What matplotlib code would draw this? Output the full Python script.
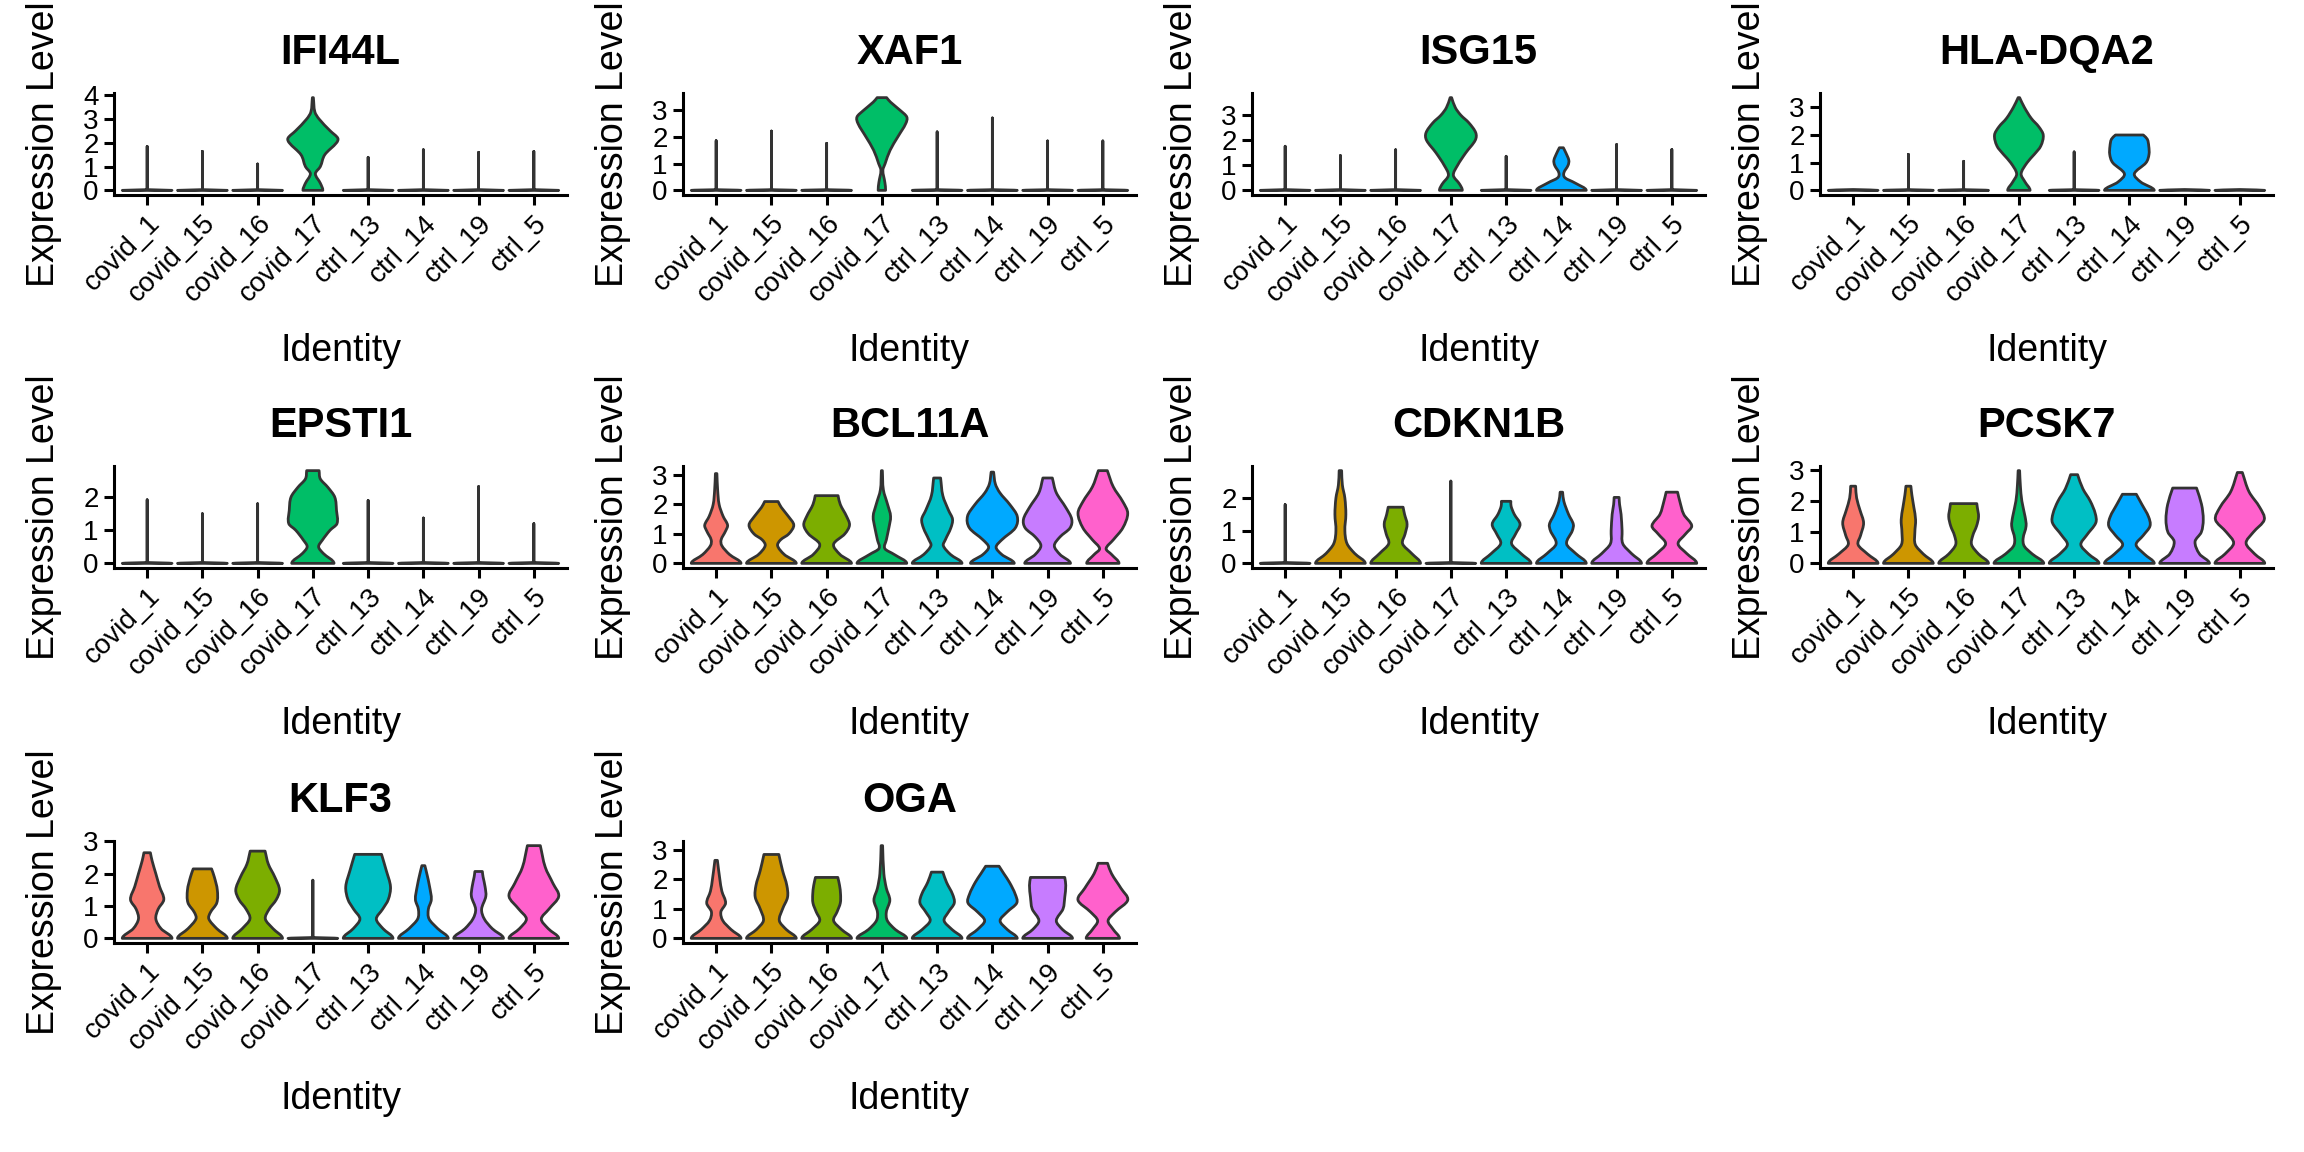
import matplotlib
matplotlib.use('Agg')
import matplotlib.pyplot as plt
from matplotlib.path import Path
from matplotlib.patches import PathPatch

plt.rcParams['font.family'] = ['Liberation Sans', 'DejaVu Sans']

groups = ['covid_1', 'covid_15', 'covid_16', 'covid_17', 'ctrl_13', 'ctrl_14', 'ctrl_19', 'ctrl_5']
colors = ['#F8766D', '#CD9600', '#7CAE00', '#00BE67', '#00BFC4', '#00A9FF', '#C77CFF', '#FF61CC']
genes = ['IFI44L', 'XAF1', 'ISG15', 'HLA-DQA2', 'EPSTI1', 'BCL11A', 'CDKN1B', 'PCSK7', 'KLF3', 'OGA']

# violin outlines: (expression level, relative half width), bottom to top
IFI44L = [
    [(0, 1), (0.03, 0), (1.85, 0)],
    [(0, 1), (0.03, 0), (1.64, 0)],
    [(0, 1), (0.03, 0), (1.11, 0)],
    [(0, 0.4), (0.3, 0.3), (0.7, 0.1), (1.0, 0.3), (1.5, 0.48), (2.0, 0.95), (2.2, 1.0), (2.5, 0.7), (3.0, 0.25), (3.3, 0.08), (3.9, 0.02)],
    [(0, 1), (0.03, 0), (1.39, 0)],
    [(0, 1), (0.03, 0), (1.71, 0)],
    [(0, 1), (0.03, 0), (1.6, 0)],
    [(0, 1), (0.03, 0), (1.64, 0)],
]
XAF1 = [
    [(0, 1), (0.03, 0), (1.86, 0)],
    [(0, 1), (0.03, 0), (2.22, 0)],
    [(0, 1), (0.03, 0), (1.76, 0)],
    [(0, 0.15), (0.3, 0.12), (0.75, 0.04), (1.0, 0.13), (1.5, 0.33), (2.0, 0.64), (2.5, 0.96), (2.75, 1.0), (3.0, 0.73), (3.3, 0.35), (3.47, 0.19)],
    [(0, 1), (0.03, 0), (2.19, 0)],
    [(0, 1), (0.03, 0), (2.71, 0)],
    [(0, 1), (0.03, 0), (1.85, 0)],
    [(0, 1), (0.03, 0), (1.85, 0)],
]
ISG15 = [
    [(0, 1), (0.03, 0), (1.76, 0)],
    [(0, 1), (0.03, 0), (1.39, 0)],
    [(0, 1), (0.03, 0), (1.62, 0)],
    [(0, 0.46), (0.25, 0.35), (0.6, 0.1), (1.0, 0.27), (1.5, 0.6), (2.0, 0.98), (2.3, 1.0), (2.7, 0.72), (3.0, 0.4), (3.3, 0.18), (3.7, 0.03)],
    [(0, 1), (0.03, 0), (1.36, 0)],
    [(0, 1.0), (0.3, 0.54), (0.5, 0.15), (0.7, 0.1), (1.0, 0.27), (1.2, 0.3), (1.5, 0.18), (1.7, 0.08)],
    [(0, 1), (0.03, 0), (1.83, 0)],
    [(0, 1), (0.03, 0), (1.63, 0)],
]
HLA_DQA2 = [
    [(0, 1), (0.03, 0)],
    [(0, 1), (0.03, 0), (1.3, 0)],
    [(0, 1), (0.03, 0), (1.05, 0)],
    [(0, 0.45), (0.3, 0.25), (0.6, 0.09), (1.0, 0.33), (1.3, 0.62), (1.6, 0.88), (2.0, 0.98), (2.3, 0.8), (2.6, 0.5), (3.0, 0.22), (3.35, 0.03)],
    [(0, 1), (0.03, 0), (1.39, 0)],
    [(0, 1.0), (0.3, 0.46), (0.6, 0.2), (1.0, 0.67), (1.3, 0.79), (1.6, 0.78), (1.85, 0.72), (2.0, 0.56)],
    [(0, 1), (0.03, 0)],
    [(0, 1), (0.03, 0)],
]
EPSTI1 = [
    [(0, 1), (0.03, 0), (1.92, 0)],
    [(0, 1), (0.03, 0), (1.5, 0)],
    [(0, 1), (0.03, 0), (1.8, 0)],
    [(0, 0.85), (0.3, 0.42), (0.5, 0.23), (0.7, 0.38), (1.0, 0.69), (1.2, 0.97), (1.6, 0.95), (2.0, 0.88), (2.3, 0.6), (2.55, 0.3), (2.8, 0.25)],
    [(0, 1), (0.03, 0), (1.9, 0)],
    [(0, 1), (0.03, 0), (1.37, 0)],
    [(0, 1), (0.03, 0), (2.32, 0)],
    [(0, 1), (0.03, 0), (1.2, 0)],
]
BCL11A = [
    [(0, 1.0), (0.3, 0.54), (0.6, 0.23), (0.8, 0.2), (1.1, 0.38), (1.3, 0.46), (1.6, 0.28), (2.0, 0.12), (2.5, 0.06), (3.05, 0.03)],
    [(0, 1.0), (0.3, 0.52), (0.6, 0.25), (0.8, 0.37), (1.0, 0.7), (1.3, 0.9), (1.6, 0.68), (1.9, 0.4), (2.1, 0.27)],
    [(0, 1.0), (0.3, 0.54), (0.65, 0.28), (1.0, 0.73), (1.3, 0.92), (1.6, 0.8), (2.0, 0.55), (2.3, 0.46)],
    [(0, 1.0), (0.3, 0.5), (0.5, 0.12), (0.8, 0.18), (1.2, 0.28), (1.6, 0.35), (2.0, 0.23), (2.5, 0.06), (3.15, 0.02)],
    [(0, 1.0), (0.3, 0.54), (0.6, 0.25), (0.8, 0.33), (1.2, 0.55), (1.5, 0.62), (1.8, 0.46), (2.3, 0.23), (2.9, 0.14)],
    [(0, 0.88), (0.3, 0.38), (0.55, 0.15), (0.8, 0.38), (1.2, 0.92), (1.6, 1.0), (2.0, 0.7), (2.4, 0.3), (2.7, 0.12), (3.1, 0.05)],
    [(0, 0.92), (0.3, 0.5), (0.6, 0.27), (0.9, 0.5), (1.2, 0.9), (1.5, 0.97), (1.9, 0.73), (2.4, 0.35), (2.9, 0.19)],
    [(0, 0.65), (0.3, 0.35), (0.5, 0.13), (0.8, 0.42), (1.2, 0.8), (1.7, 1.0), (2.1, 0.8), (2.6, 0.42), (3.15, 0.18)],
]
CDKN1B = [
    [(0, 1), (0.03, 0), (1.8, 0)],
    [(0, 1.0), (0.3, 0.58), (0.6, 0.27), (1.0, 0.18), (1.5, 0.22), (2.0, 0.18), (2.4, 0.08), (2.84, 0.05)],
    [(0, 1.0), (0.3, 0.65), (0.6, 0.28), (0.9, 0.38), (1.2, 0.46), (1.5, 0.36), (1.72, 0.3)],
    [(0, 1), (0.03, 0), (2.52, 0)],
    [(0, 1.0), (0.3, 0.6), (0.6, 0.22), (0.9, 0.38), (1.2, 0.56), (1.5, 0.33), (1.75, 0.2), (1.9, 0.19)],
    [(0, 1.0), (0.3, 0.58), (0.6, 0.21), (1.0, 0.44), (1.2, 0.48), (1.5, 0.29), (1.9, 0.1), (2.18, 0.05)],
    [(0, 1.0), (0.3, 0.6), (0.6, 0.25), (1.0, 0.22), (1.5, 0.18), (1.8, 0.12), (2.02, 0.1)],
    [(0, 1.0), (0.3, 0.6), (0.6, 0.25), (0.9, 0.55), (1.15, 0.8), (1.5, 0.48), (1.9, 0.32), (2.18, 0.23)],
]
PCSK7 = [
    [(0, 1.0), (0.3, 0.58), (0.6, 0.2), (0.9, 0.3), (1.3, 0.42), (1.7, 0.28), (2.1, 0.14), (2.48, 0.1)],
    [(0, 1.0), (0.3, 0.6), (0.6, 0.28), (1.0, 0.26), (1.4, 0.29), (1.8, 0.22), (2.2, 0.14), (2.48, 0.1)],
    [(0, 1.0), (0.3, 0.6), (0.6, 0.32), (0.9, 0.37), (1.2, 0.52), (1.5, 0.6), (1.8, 0.55), (1.92, 0.53)],
    [(0, 1.0), (0.3, 0.54), (0.55, 0.22), (0.8, 0.17), (1.2, 0.29), (1.5, 0.25), (2.0, 0.12), (2.5, 0.06), (2.98, 0.03)],
    [(0, 1.0), (0.3, 0.58), (0.6, 0.27), (0.9, 0.5), (1.3, 0.87), (1.6, 0.85), (2.0, 0.65), (2.4, 0.35), (2.85, 0.14)],
    [(0, 1.0), (0.3, 0.6), (0.6, 0.27), (0.9, 0.56), (1.2, 0.83), (1.5, 0.77), (1.9, 0.5), (2.22, 0.28)],
    [(0, 1.0), (0.3, 0.6), (0.7, 0.42), (1.0, 0.67), (1.4, 0.75), (1.9, 0.68), (2.42, 0.48)],
    [(0, 1.0), (0.3, 0.6), (0.65, 0.25), (1.0, 0.54), (1.4, 0.98), (1.8, 0.8), (2.3, 0.37), (2.92, 0.1)],
]
KLF3 = [
    [(0, 1.0), (0.3, 0.56), (0.6, 0.35), (0.9, 0.44), (1.2, 0.67), (1.6, 0.5), (2.0, 0.35), (2.4, 0.2), (2.65, 0.13)],
    [(0, 1.0), (0.3, 0.58), (0.6, 0.26), (0.8, 0.32), (1.1, 0.58), (1.5, 0.6), (1.9, 0.48), (2.15, 0.37)],
    [(0, 1.0), (0.3, 0.62), (0.6, 0.31), (0.9, 0.46), (1.2, 0.75), (1.5, 0.88), (1.9, 0.69), (2.3, 0.43), (2.7, 0.3)],
    [(0, 1), (0.03, 0), (1.8, 0)],
    [(0, 1.0), (0.3, 0.6), (0.6, 0.33), (0.9, 0.58), (1.2, 0.81), (1.6, 0.9), (2.1, 0.73), (2.6, 0.54)],
    [(0, 1.0), (0.3, 0.58), (0.6, 0.23), (0.9, 0.2), (1.2, 0.32), (1.6, 0.25), (2.0, 0.14), (2.25, 0.06)],
    [(0, 1.0), (0.3, 0.55), (0.6, 0.23), (0.9, 0.12), (1.3, 0.29), (1.6, 0.26), (1.9, 0.18), (2.07, 0.15)],
    [(0, 1.0), (0.3, 0.58), (0.6, 0.3), (0.9, 0.6), (1.3, 1.0), (1.7, 0.77), (2.2, 0.46), (2.87, 0.26)],
]
OGA = [
    [(0, 1.0), (0.3, 0.6), (0.6, 0.27), (0.9, 0.19), (1.2, 0.38), (1.6, 0.23), (2.0, 0.15), (2.65, 0.05)],
    [(0, 1.0), (0.3, 0.6), (0.6, 0.32), (1.0, 0.45), (1.4, 0.65), (1.8, 0.62), (2.3, 0.45), (2.85, 0.3)],
    [(0, 1.0), (0.3, 0.6), (0.6, 0.28), (0.9, 0.42), (1.2, 0.55), (1.5, 0.56), (1.8, 0.52), (2.07, 0.45)],
    [(0, 1.0), (0.3, 0.54), (0.6, 0.22), (0.9, 0.18), (1.3, 0.32), (1.7, 0.18), (2.2, 0.08), (3.15, 0.03)],
    [(0, 1.0), (0.3, 0.6), (0.6, 0.28), (0.9, 0.46), (1.2, 0.69), (1.5, 0.62), (1.9, 0.38), (2.25, 0.23)],
    [(0, 1.0), (0.3, 0.6), (0.6, 0.31), (0.9, 0.6), (1.2, 0.98), (1.5, 0.92), (1.9, 0.69), (2.2, 0.46), (2.45, 0.27)],
    [(0, 1.0), (0.3, 0.6), (0.6, 0.35), (1.0, 0.62), (1.4, 0.69), (1.8, 0.73), (2.07, 0.69)],
    [(0, 0.67), (0.3, 0.42), (0.6, 0.21), (0.9, 0.5), (1.3, 1.0), (1.7, 0.73), (2.2, 0.35), (2.55, 0.19)],
]
profiles = [IFI44L, XAF1, ISG15, HLA_DQA2, EPSTI1, BCL11A, CDKN1B, PCSK7, KLF3, OGA]

HALF = 0.45  # violin half width at its widest


def violin_path(center, prof):
    # smooth outline through the knots (cubic hermite in w(y)), flat bottom and top
    ys = [p[0] for p in prof]
    ws = [p[1] for p in prof]
    n = len(prof)
    m = []
    for i in range(n):
        if i == 0:
            m.append(0.0)
        elif i == n - 1:
            m.append((ws[i] - ws[i - 1]) / (ys[i] - ys[i - 1]))
        else:
            m.append((ws[i + 1] - ws[i - 1]) / (ys[i + 1] - ys[i - 1]))
    chain = [(ws[0], ys[0])]
    for i in range(n - 1):
        dy = ys[i + 1] - ys[i]
        c1 = (min(max(ws[i] + m[i] * dy / 3, 0), 1.05), ys[i] + dy / 3)
        c2 = (min(max(ws[i + 1] - m[i + 1] * dy / 3, 0), 1.05), ys[i + 1] - dy / 3)
        chain += [c1, c2, (ws[i + 1], ys[i + 1])]
    right = [(center + w * HALF, y) for w, y in chain]
    left = [(center - w * HALF, y) for w, y in chain[::-1]]
    verts = right + left + [right[0]]
    codes = ([Path.MOVETO] + [Path.CURVE4] * (len(chain) - 1)
             + [Path.LINETO] + [Path.CURVE4] * (len(chain) - 1) + [Path.CLOSEPOLY])
    return Path(verts, codes)


fig = plt.figure(figsize=(23.04, 11.52), dpi=100)
W, H = 2304, 1152
col_left = [114, 683, 1252, 1820]
row_top = [93, 466, 841]
aw, ah = 453, 102

for k, (gene, prof) in enumerate(zip(genes, profiles)):
    r, c = divmod(k, 4)
    ax = fig.add_axes([col_left[c] / W, 1 - (row_top[r] + ah) / H, aw / W, ah / H])
    top = max(p[-1][0] for p in prof)
    for i, p in enumerate(prof):
        ax.add_patch(PathPatch(violin_path(i + 1, p), facecolor=colors[i],
                               edgecolor='#333333', lw=2.0, joinstyle='round'))
    ax.set_xlim(0.4, 8.6)
    ax.set_ylim(-0.05 * top, 1.05 * top)
    ax.set_xticks(range(1, 9))
    ax.set_xticklabels(groups, rotation=45, ha='right', va='top', rotation_mode='anchor')
    ax.set_yticks(range(0, int(1.05 * top) + 1))
    for s in ['top', 'right']:
        ax.spines[s].set_visible(False)
    for s in ['left', 'bottom']:
        ax.spines[s].set_linewidth(2.2)
    ax.tick_params(width=2.2, length=7, labelsize=20, color='black', pad=4)
    ax.set_title(gene, fontsize=30, fontweight='bold', pad=21)
    ax.set_xlabel('Identity', fontsize=27)
    ax.set_ylabel('Expression Level', fontsize=27)
    ax.xaxis.set_label_coords(0.5, -138 / ah)
    ax.yaxis.set_label_coords(-52 / aw, 0.5)

plt.savefig('out.png', dpi=100)
